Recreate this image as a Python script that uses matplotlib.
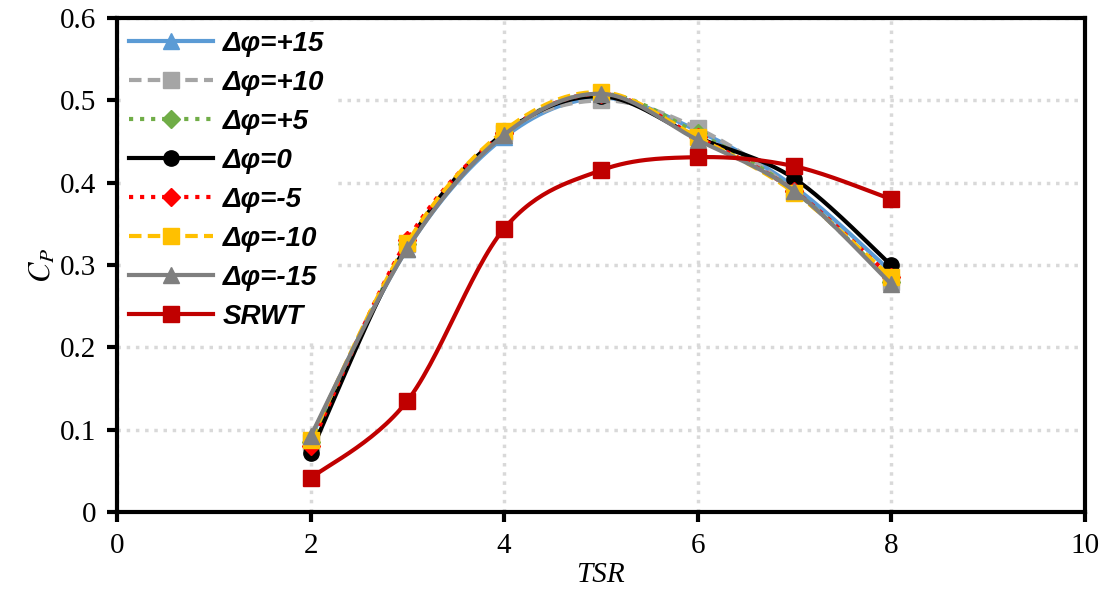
import numpy as np
import matplotlib.pyplot as plt

tsr = [2, 3, 4, 5, 6, 7, 8]

cp_p15 = [0.090, 0.320, 0.455, 0.503, 0.463, 0.395, 0.292]
cp_p10 = [0.085, 0.325, 0.460, 0.500, 0.466, 0.390, 0.280]
cp_p5 = [0.085, 0.325, 0.460, 0.508, 0.460, 0.390, 0.280]
cp_0 = [0.072, 0.325, 0.460, 0.505, 0.455, 0.405, 0.300]
cp_m5 = [0.080, 0.330, 0.460, 0.508, 0.455, 0.390, 0.285]
cp_m10 = [0.088, 0.327, 0.463, 0.510, 0.455, 0.388, 0.285]
cp_m15 = [0.092, 0.320, 0.458, 0.508, 0.452, 0.390, 0.277]
cp_srwt = [0.041, 0.135, 0.344, 0.415, 0.431, 0.420, 0.380]

labels = ['Δφ=+15', 'Δφ=+10', 'Δφ=+5', 'Δφ=0', 'Δφ=-5', 'Δφ=-10', 'Δφ=-15', 'SRWT']


def smooth(x, y, n=30):
    # excel-like smoothed line (catmull-rom bezier)
    x = np.asarray(x, float)
    y = np.asarray(y, float)
    px = np.concatenate([[x[0]], x, [x[-1]]])
    py = np.concatenate([[y[0]], y, [y[-1]]])
    xs, ys = [x[0]], [y[0]]
    t = np.linspace(0, 1, n + 1)[1:]
    for i in range(len(x) - 1):
        p0 = np.array([x[i], y[i]])
        p3 = np.array([x[i + 1], y[i + 1]])
        c1 = p0 + (np.array([px[i + 2], py[i + 2]]) - np.array([px[i], py[i]])) / 6
        c2 = p3 - (np.array([px[i + 3], py[i + 3]]) - np.array([px[i + 1], py[i + 1]])) / 6
        b = ((1 - t) ** 3)[:, None] * p0 + (3 * (1 - t) ** 2 * t)[:, None] * c1 \
            + (3 * (1 - t) * t ** 2)[:, None] * c2 + (t ** 3)[:, None] * p3
        xs.extend(b[:, 0])
        ys.extend(b[:, 1])
    return np.array(xs), np.array(ys), list(range(0, len(xs), n))


plt.rcParams['mathtext.fontset'] = 'stix'
fig = plt.figure(figsize=(11.09, 6.01), dpi=100)
ax = fig.add_axes([0.1055, 0.148, 0.8725, 0.822])

series = [
    (cp_p15, '#5B9BD5', '-', '^', 12),
    (cp_p10, '#A5A5A5', (0, (3, 1.5)), 's', 12),
    (cp_p5, '#70AD47', ':', 'D', 9),
    (cp_0, 'black', '-', 'o', 11),
    (cp_m5, '#FF0000', ':', 'D', 9),
    (cp_m10, '#FFC000', (0, (3, 1.5)), 's', 12),
    (cp_m15, '#7F7F7F', '-', '^', 12),
    (cp_srwt, '#C00000', '-', 's', 12),
]

handles = []
for (y, c, ls, m, ms), lab in zip(series, labels):
    xs, ys, idx = smooth(tsr, y)
    h, = ax.plot(xs, ys, color=c, linestyle=ls, lw=3, marker=m, markersize=ms,
                 markevery=idx, label=lab, zorder=3)
    handles.append(h)

ax.set_xlim(0, 10)
ax.set_ylim(0, 0.6)
ax.set_xticks([0, 2, 4, 6, 8, 10])
ax.set_yticks([0, 0.1, 0.2, 0.3, 0.4, 0.5, 0.6])
ax.set_yticklabels(['0', '0.1', '0.2', '0.3', '0.4', '0.5', '0.6'])
ax.grid(True, color='#D9D9D9', linestyle=':', lw=2.5, zorder=0)
ax.set_axisbelow(True)

for s in ax.spines.values():
    s.set_linewidth(3)
ax.tick_params(direction='out', length=7, width=3, labelsize=21, pad=8)
for lbl in ax.get_xticklabels() + ax.get_yticklabels():
    lbl.set_family('Liberation Serif')

ax.set_xlabel('TSR', fontsize=21, family='Liberation Serif', style='italic', labelpad=2)
ax.set_ylabel(r'$C_P$', fontsize=22, labelpad=2)

leg = ax.legend(handles=handles, loc='upper left', frameon=True, framealpha=1,
                edgecolor='white', fancybox=False, handlelength=3.0,
                labelspacing=0.47, borderaxespad=0.15, handletextpad=0.35,
                borderpad=0.3,
                prop={'family': 'Liberation Sans', 'style': 'italic',
                      'weight': 'bold', 'size': 20})
leg.set_zorder(5)

fig.savefig('out.png', dpi=100)
